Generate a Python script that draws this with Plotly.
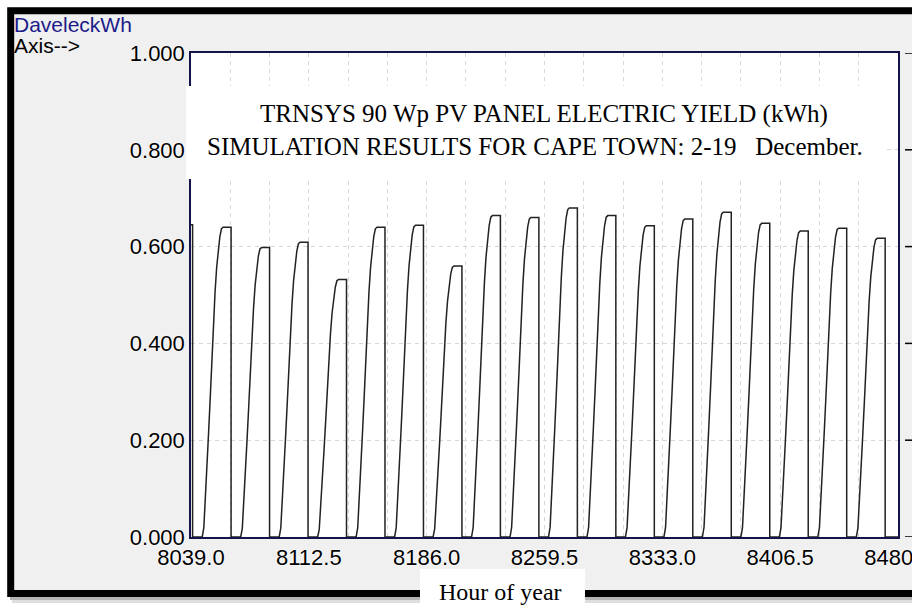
import plotly.graph_objects as go

# ---------------- data ----------------
x_range = [8039.0, 8480.0]
x_tickvals = [8039.0, 8112.5, 8186.0, 8259.5, 8333.0, 8406.5, 8480.0]
x_ticktext = ["8039.0", "8112.5", "8186.0", "8259.5", "8333.0", "8406.5", "8480.0"]
y_tickvals = [0.0, 0.2, 0.4, 0.6, 0.8, 1.0]
y_ticktext = ["0.000", "0.200", "0.400", "0.600", "0.800", "1.000"]

first_day = 334  # day-of-year index (0-based) of the partial day visible at hour 8039
# cumulative daily electric yield reached at end of each day (kWh)
daily_peak = [0.645,
              0.640, 0.598, 0.609, 0.532, 0.640, 0.644, 0.560, 0.664, 0.660,
              0.680, 0.664, 0.643, 0.657, 0.671, 0.648, 0.632, 0.638, 0.617]
# fraction of the day's yield accumulated by each hour of the day (0..24)
daily_profile = [0, 0, 0, 0, 0, 0, 0,
                 0.03, 0.12, 0.23, 0.34, 0.45, 0.57, 0.69, 0.79, 0.87, 0.93,
                 0.97, 0.995, 1, 1, 1, 1, 1, 1]
tail_values = [0, 0, 0, 0, 0, 0, 0, 0]  # hours after last reset, before 8480

title_line1 = "TRNSYS 90 Wp PV PANEL ELECTRIC YIELD (kWh)"
title_line2 = "SIMULATION RESULTS FOR CAPE TOWN: 2-19   December."

# ---------------- build series ----------------
xs, ys = [], []
for i, peak in enumerate(daily_peak):
    d = first_day + i
    for k in range(1, 25):
        h = 24 * d + k
        if h < x_range[0]:
            continue
        xs.append(h)
        ys.append(peak * daily_profile[k])
    xs.append(24 * (d + 1))
    ys.append(0.0)
last = xs[-1]
for j, v in enumerate(tail_values, start=1):
    xs.append(last + j)
    ys.append(v)

# ---------------- layout geometry ----------------
W, H = 912, 606
L, R, T, B = 191, 14, 53, 69
PW, PH = W - L - R, H - T - B


def px(x):
    return (x - L) / PW


def py(y):
    return (H - B - y) / PH


fig = go.Figure()
fig.add_trace(go.Scatter(x=xs, y=ys, mode="lines",
                         line=dict(color="#222222", width=1.5),
                         hoverinfo="skip", showlegend=False))

halo = "0 0 2px white, 0 0 2px white, 0 0 1px white"
tickfont = dict(family="Liberation Sans, Arial, sans-serif", size=22, color="black", shadow=halo)
gridcol = "#d6d6d6"

fig.update_xaxes(range=x_range, tickvals=x_tickvals, ticktext=x_ticktext,
                 showgrid=True, gridcolor=gridcol, griddash="4px,4px", gridwidth=1,
                 minor=dict(tick0=8039.0, dtick=24.5, showgrid=True, gridcolor=gridcol,
                            griddash="4px,4px", gridwidth=1),
                 ticks="", showline=True, linecolor="#14144a", linewidth=1.5, mirror=True,
                 zeroline=False, tickfont=tickfont, ticklabelstandoff=0,
                 ticklabeloverflow="allow", automargin=False)
fig.update_yaxes(range=[0, 1], tickvals=y_tickvals, ticktext=y_ticktext,
                 showgrid=True, gridcolor=gridcol, griddash="4px,4px", gridwidth=1,
                 ticks="", showline=True, linecolor="#14144a", linewidth=1.5, mirror=True,
                 zeroline=False, tickfont=tickfont, ticklabelstandoff=0,
                 automargin=False)

shapes = []
# white outside the outer frame
shapes.append(dict(type="rect", xref="paper", yref="paper", x0=px(-10), x1=px(W + 10),
                   y0=py(7.3), y1=py(-10), fillcolor="white", line_width=0, layer="below"))
shapes.append(dict(type="rect", xref="paper", yref="paper", x0=px(-10), x1=px(7.3),
                   y0=py(H + 10), y1=py(-10), fillcolor="white", line_width=0, layer="below"))
shapes.append(dict(type="rect", xref="paper", yref="paper", x0=px(-10), x1=px(W + 10),
                   y0=py(H + 10), y1=py(597), fillcolor="white", line_width=0, layer="below"))
# shadow under frame
shapes.append(dict(type="rect", xref="paper", yref="paper", x0=px(10), x1=px(W + 10),
                   y0=py(600), y1=py(597), fillcolor="#b4b4b4", line_width=0, layer="below"))
shapes.append(dict(type="rect", xref="paper", yref="paper", x0=px(12), x1=px(W + 10),
                   y0=py(603), y1=py(600), fillcolor="#dedede", line_width=0, layer="below"))
# outer thick black frame
shapes.append(dict(type="rect", xref="paper", yref="paper", x0=px(10.7), x1=px(W + 30),
                   y0=py(593.5), y1=py(10.7), line=dict(color="black", width=7),
                   fillcolor="rgba(0,0,0,0)", layer="below"))
# right-side tick marks
for v in y_tickvals:
    shapes.append(dict(type="line", xref="paper", yref="y", x0=px(905), x1=px(912),
                       y0=v, y1=v, line=dict(color="black", width=1.5), layer="above"))
# title white box
shapes.append(dict(type="rect", xref="paper", yref="paper", x0=px(186), x1=px(885),
                   y0=py(179), y1=py(86), fillcolor="white", line_width=0, layer="above"))
# x title white box
shapes.append(dict(type="rect", xref="paper", yref="paper", x0=px(420), x1=px(585),
                   y0=py(H + 10), y1=py(569), fillcolor="white", line_width=0, layer="above"))

serif = "Liberation Serif, Times New Roman, serif"
sans = "Liberation Sans, Arial, sans-serif"
annotations = [
    dict(text="DaveleckWh", xref="paper", yref="paper", x=px(12), y=py(24.5),
         xanchor="left", yanchor="middle", showarrow=False,
         font=dict(family=sans, size=21, color="#1c1c8a")),
    dict(text="Axis-->", xref="paper", yref="paper", x=px(12), y=py(45.5),
         xanchor="left", yanchor="middle", showarrow=False,
         font=dict(family=sans, size=21, color="black")),
    dict(text=title_line1, xref="paper", yref="paper", x=px(544), y=py(114),
         xanchor="center", yanchor="middle", showarrow=False,
         font=dict(family=serif, size=25, color="black")),
    dict(text=title_line2, xref="paper", yref="paper", x=px(535), y=py(146),
         xanchor="center", yanchor="middle", showarrow=False,
         font=dict(family=serif, size=25, color="black")),
    dict(text="Hour of year", xref="paper", yref="paper", x=px(500), y=py(592),
         xanchor="center", yanchor="middle", showarrow=False,
         font=dict(family=serif, size=24, color="black")),
]

fig.update_layout(width=W, height=H, autosize=False,
                  margin=dict(l=L, r=R, t=T, b=B, pad=0, autoexpand=False),
                  paper_bgcolor="#f0f0f0", plot_bgcolor="white",
                  shapes=shapes, annotations=annotations, showlegend=False)

post = ("document.documentElement.style.overflow='hidden';"
        "document.body.style.margin='0';document.body.style.overflow='hidden';"
        "document.querySelectorAll('.main-svg').forEach(function(s){s.style.overflow='hidden';});")
fig.write_html("out.html", config={"displayModeBar": False}, post_script=post)
